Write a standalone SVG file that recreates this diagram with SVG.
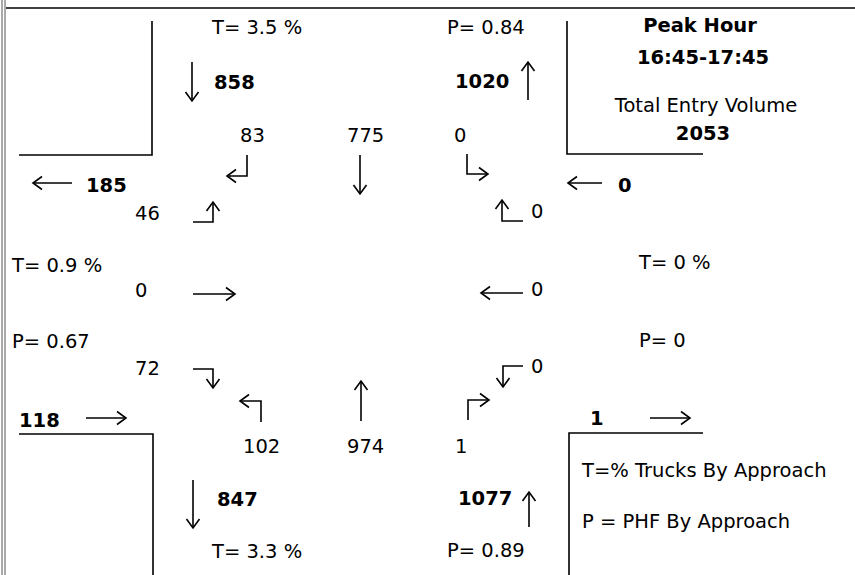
<svg xmlns="http://www.w3.org/2000/svg" width="855" height="575" viewBox="0 0 855 575">
<defs>
<marker id="ah" markerUnits="userSpaceOnUse" markerWidth="12" markerHeight="16" refX="10" refY="8" orient="auto">
<path d="M1,1.5 L10,8 L1,14.5" fill="none" stroke="#000" stroke-width="1.6"/>
</marker>
<style>
text{font-family:"DejaVu Sans","Liberation Sans",sans-serif;font-size:19.5px;fill:#000}
.b{font-weight:bold}
.m{text-anchor:middle}
.frame{fill:none;stroke:#000;stroke-width:1.6}
.bord{fill:none;stroke:#555;stroke-width:1}
.arr{fill:none;stroke:#000;stroke-width:1.6;marker-end:url(#ah)}
</style>
</defs>
<rect width="855" height="575" fill="#fff"/>
<g id="border">
<line class="bord" x1="2" y1="0" x2="2" y2="575"/>
<line class="bord" x1="5" y1="0" x2="5" y2="575"/>
<line class="frame" x1="6" y1="8" x2="855" y2="8"/>
</g>
<g id="corners">
<polyline class="frame" points="152,21 152,155 19,155"/>
<polyline class="frame" points="567,21 567,154 703,154"/>
<polyline class="frame" points="19,434 153,434 153,575"/>
<polyline class="frame" points="703,433 569,433 569,575"/>
</g>
<g id="connectors">
<line class="arr" x1="192" y1="62" x2="192" y2="101"/>
<line class="arr" x1="528" y1="100" x2="528" y2="62"/>
<polyline class="arr" points="247,155 247,176 227,176"/>
<line class="arr" x1="360" y1="155" x2="360" y2="194"/>
<polyline class="arr" points="467,154 467,174 488,174"/>
<line class="arr" x1="72" y1="183" x2="33" y2="183"/>
<line class="arr" x1="602" y1="183" x2="568" y2="183"/>
<polyline class="arr" points="193,222 213,222 213,202"/>
<line class="arr" x1="193" y1="294" x2="235" y2="294"/>
<polyline class="arr" points="193,369 213,369 213,388"/>
<polyline class="arr" points="523,221 502,221 502,200"/>
<line class="arr" x1="523" y1="293" x2="481" y2="293"/>
<polyline class="arr" points="523,366 503,366 503,387"/>
<polyline class="arr" points="261,422 261,401 240,401"/>
<line class="arr" x1="361" y1="421" x2="361" y2="381"/>
<polyline class="arr" points="468,420 468,400 489,400"/>
<line class="arr" x1="86" y1="418" x2="126" y2="418"/>
<line class="arr" x1="650" y1="418" x2="690" y2="418"/>
<line class="arr" x1="193" y1="480" x2="193" y2="528"/>
<line class="arr" x1="529" y1="527" x2="529" y2="492"/>
</g>
<g id="north">
<text x="212" y="34">T= 3.5 %</text>
<text x="447" y="34">P= 0.84</text>
<text class="b" x="214" y="89">858</text>
<text class="b" x="455" y="88">1020</text>
<text x="240" y="142">83</text>
<text x="347" y="142">775</text>
<text x="454" y="142">0</text>
</g>
<g id="info">
<text class="b m" x="700" y="32">Peak Hour</text>
<text class="b m" x="703" y="64">16:45-17:45</text>
<text class="m" x="706" y="112">Total Entry Volume</text>
<text class="b m" x="703" y="140">2053</text>
</g>
<g id="west">
<text class="b" x="86" y="192">185</text>
<text x="135" y="220">46</text>
<text x="12" y="272">T= 0.9 %</text>
<text x="135" y="297">0</text>
<text x="12" y="348">P= 0.67</text>
<text x="135" y="375">72</text>
<text class="b" x="19" y="427">118</text>
</g>
<g id="east">
<text class="b" x="618" y="192">0</text>
<text x="531" y="218">0</text>
<text x="639" y="269">T= 0 %</text>
<text x="531" y="296">0</text>
<text x="639" y="347">P= 0</text>
<text x="531" y="373">0</text>
<text class="b" x="590" y="425">1</text>
</g>
<g id="south">
<text x="243" y="453">102</text>
<text x="347" y="453">974</text>
<text x="455" y="453">1</text>
<text class="b" x="217" y="506">847</text>
<text class="b" x="458" y="505">1077</text>
<text x="212" y="558">T= 3.3 %</text>
<text x="447" y="557">P= 0.89</text>
</g>
<g id="legend">
<text x="582" y="477">T=% Trucks By Approach</text>
<text x="582" y="528">P = PHF By Approach</text>
</g>
</svg>
